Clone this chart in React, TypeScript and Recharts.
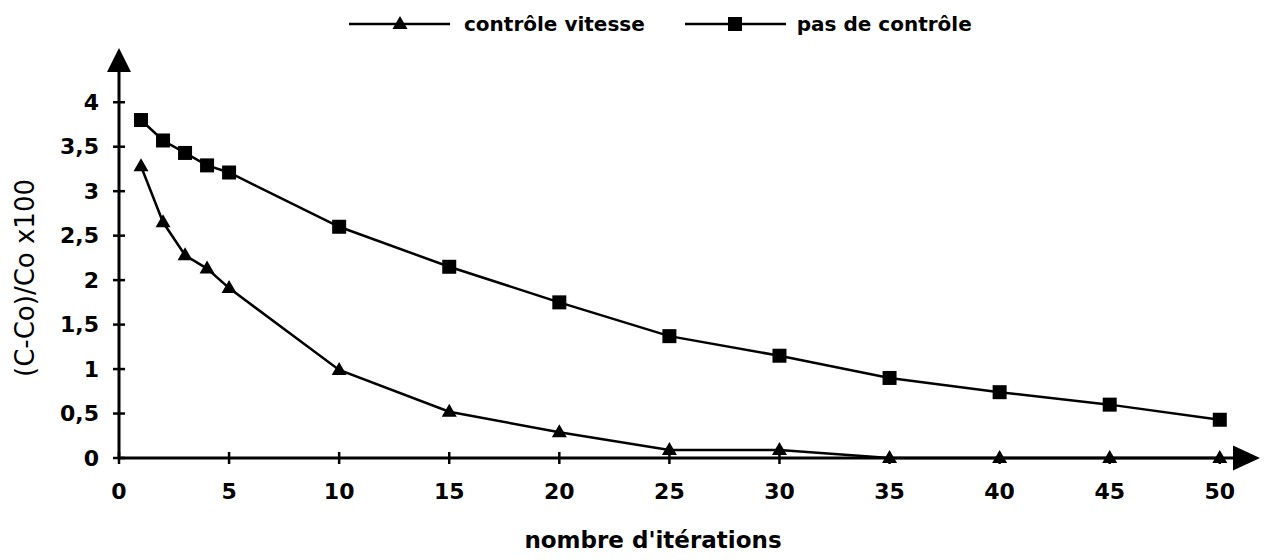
import React from 'react';
import { LineChart, Line, XAxis, YAxis, Legend, ReferenceDot } from 'recharts';

const iterations = [1, 2, 3, 4, 5, 10, 15, 20, 25, 30, 35, 40, 45, 50];
const controleVitesse = [3.28, 2.65, 2.28, 2.13, 1.91, 0.99, 0.52, 0.29, 0.09, 0.09, 0, 0, 0, 0];
const pasDeControle = [3.8, 3.57, 3.43, 3.29, 3.21, 2.6, 2.15, 1.75, 1.37, 1.15, 0.9, 0.74, 0.6, 0.43];
const xTicks = [0, 5, 10, 15, 20, 25, 30, 35, 40, 45, 50];
const yTicks = [0, 0.5, 1, 1.5, 2, 2.5, 3, 3.5, 4];
const seriesNames = ['contrôle vitesse', 'pas de contrôle'];
const xTitle = "nombre d'itérations";
const yTitle = '(C-Co)/Co x100';

const X_MAX = 50.6;
const Y_MAX = 4.34;

const data = iterations.map((x, i) => ({ x, cv: controleVitesse[i], pc: pasDeControle[i] }));

const FONT = '"DejaVu Sans", sans-serif';

const Triangle = (props: any) => {
  const { cx, cy } = props;
  if (cx == null || cy == null) return null;
  return <path d={`M${cx},${cy - 8} L${cx - 7.5},${cy + 5} L${cx + 7.5},${cy + 5} Z`} fill="#000" />;
};
const Square = (props: any) => {
  const { cx, cy } = props;
  if (cx == null || cy == null) return null;
  return <rect x={cx - 7} y={cy - 7} width={14} height={14} fill="#000" />;
};

const XTick = (props: any) => {
  const { x, y, payload } = props;
  return (
    <g>
      <line x1={x} x2={x} y1={y - 6} y2={y + 6} stroke="#000" strokeWidth={2.5} />
      <text x={x} y={y + 33} textAnchor="middle" dominantBaseline="central" fontFamily={FONT} fontWeight="bold" fontSize={22} fill="#000">
        {payload.value}
      </text>
    </g>
  );
};
const YTick = (props: any) => {
  const { x, y, payload } = props;
  return (
    <g>
      <line x1={x - 6} x2={x + 6} y1={y} y2={y} stroke="#000" strokeWidth={2.5} />
      <text x={x - 20} y={y} textAnchor="end" dominantBaseline="central" fontFamily={FONT} fontWeight="bold" fontSize={22} fill="#000">
        {String(payload.value).replace('.', ',')}
      </text>
    </g>
  );
};

const LegendContent = () => (
  <div style={{ display: 'flex', alignItems: 'center', fontFamily: FONT, fontWeight: 'bold', fontSize: 20, color: '#000' }}>
    <svg width={101} height={20}>
      <line x1={0} x2={101} y1={10} y2={10} stroke="#000" strokeWidth={2.5} />
      <Triangle cx={51} cy={10} />
    </svg>
    <span style={{ marginLeft: 14, marginRight: 40 }}>{seriesNames[0]}</span>
    <svg width={101} height={20}>
      <line x1={0} x2={101} y1={10} y2={10} stroke="#000" strokeWidth={2.5} />
      <Square cx={50} cy={10} />
    </svg>
    <span style={{ marginLeft: 11 }}>{seriesNames[1]}</span>
  </div>
);

export default function App() {
  return (
    <div style={{ position: 'absolute', left: 0, top: 0, width: 1269, height: 560, background: '#fff' }}>
      <LineChart width={1269} height={560} data={data} margin={{ top: 72, right: 36, bottom: 42, left: 59 }}>
        <XAxis
          dataKey="x"
          type="number"
          domain={[0, X_MAX]}
          ticks={xTicks}
          interval={0}
          height={60}
          tickSize={0}
          tickMargin={0}
          tickLine={false}
          axisLine={{ stroke: '#000', strokeWidth: 3 }}
          tick={<XTick />}
          label={(p: any) => {
            const vb = p.viewBox;
            return (
              <text x={vb.x + vb.width / 2 - 23} y={540} textAnchor="middle" dominantBaseline="central" fontFamily={FONT} fontWeight="bold" fontSize={23} fill="#000">
                {xTitle}
              </text>
            );
          }}
        />
        <YAxis
          type="number"
          domain={[0, Y_MAX]}
          ticks={yTicks}
          interval={0}
          width={60}
          tickSize={0}
          tickMargin={0}
          tickLine={false}
          axisLine={{ stroke: '#000', strokeWidth: 3 }}
          tick={<YTick />}
          label={(p: any) => {
            const vb = p.viewBox;
            const cy = vb.y + vb.height / 2 + 13;
            return (
              <text x={25} y={cy} transform={`rotate(-90, 25, ${cy})`} textAnchor="middle" dominantBaseline="central" fontFamily={FONT} fontSize={26} fill="#000">
                {yTitle}
              </text>
            );
          }}
        />
        <Legend
          verticalAlign="middle"
          align="center"
          layout="horizontal"
          content={<LegendContent />}
          wrapperStyle={{ top: 12, left: 349, width: 700 }}
        />
        <Line dataKey="cv" name={seriesNames[0]} stroke="#000" strokeWidth={2.5} dot={<Triangle />} activeDot={false} isAnimationActive={false} type="linear" />
        <Line dataKey="pc" name={seriesNames[1]} stroke="#000" strokeWidth={2.5} dot={<Square />} activeDot={false} isAnimationActive={false} type="linear" />
        <ReferenceDot
          x={X_MAX}
          y={0}
          ifOverflow="visible"
          shape={(p: any) => <path d={`M${p.cx},${p.cy - 12.5} L${p.cx + 27},${p.cy} L${p.cx},${p.cy + 12.5} Z`} fill="#000" />}
        />
        <ReferenceDot
          x={0}
          y={Y_MAX}
          ifOverflow="visible"
          shape={(p: any) => <path d={`M${p.cx - 12},${p.cy} L${p.cx},${p.cy - 24} L${p.cx + 12},${p.cy} Z`} fill="#000" />}
        />
      </LineChart>
    </div>
  );
}
